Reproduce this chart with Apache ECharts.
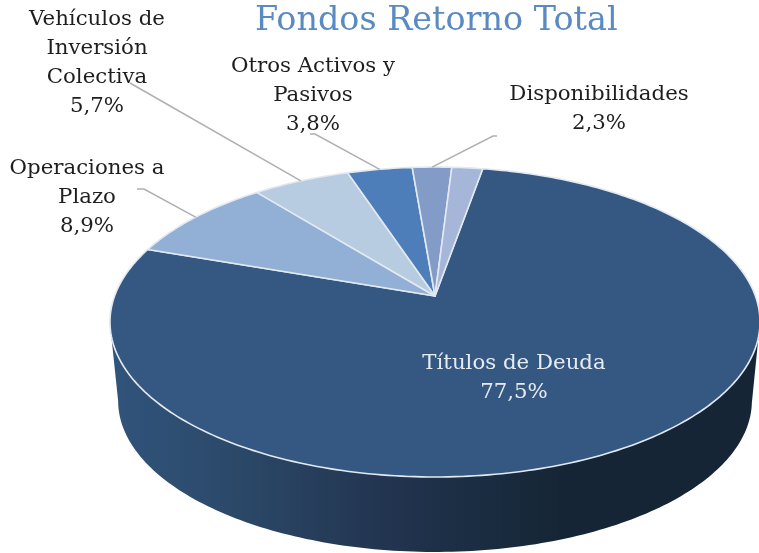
<!DOCTYPE html>
<html><head><meta charset="utf-8">
<style>html,body{margin:0;padding:0;background:#fff}#c{width:759px;height:553px}</style>
<script src="https://cdn.jsdelivr.net/npm/echarts@6/dist/echarts.min.js"></script>
</head><body><div id="c"></div>
<script>
const titleText = 'Fondos Retorno Total';
const categories = ['Títulos de Deuda', 'Operaciones a\nPlazo', 'Vehículos de\nInversión\nColectiva', 'Otros Activos y\nPasivos', 'Disponibilidades', ''];
const values = [77.5, 8.9, 5.7, 3.8, 2.3, 1.8];
const valueLabels = ['77,5%', '8,9%', '5,7%', '3,8%', '2,3%', ''];
const sliceColors = ['#345882', '#92b0d5', '#b7cbe1', '#4d7eb9', '#839cc7', '#a6b6d8'];

// label layout: [centre x, top y of the text block]
const labelPos = [[514, 349], [87, 154], [97, 5], [313, 52], [599, 80], null];
// leader elbow points, from the label towards the slice rim
const leaderStart = [null, [[137, 189], [144, 189]], [[130, 83]], [[310, 134], [315, 134]], [[497, 136], [493, 136]], null];

const FONT = '"DejaVu Serif", serif';
const startAngle = 10;
const apex = [435, 296];
const K = 0.1678, A = 320.4, B = 150.6;
const wallScale = 0.975, wallApexY = 375.5;

function project(deg, s, y0) {
  const a = deg * Math.PI / 180, u = Math.sin(a), v = Math.cos(a), w = 1 + K * v;
  return [apex[0] + s * A * u / w, y0 - s * B * v / w];
}
const total = values.reduce((p, c) => p + c, 0);
const starts = [];
values.reduce((acc, v, i) => { starts[i] = acc; return acc + v; }, 0);
const toDeg = x => startAngle + x / total * 360;

function sliceShape(i) {
  const pts = [apex.slice()];
  const a0 = toDeg(starts[i]), a1 = toDeg(starts[i] + values[i]);
  const n = Math.max(4, Math.ceil(a1 - a0));
  for (let k = 0; k <= n; k++) pts.push(project(a0 + (a1 - a0) * k / n, 1, apex[1]));
  return pts;
}
function wallShape() {
  const ext = Math.acos(-K) * 180 / Math.PI, back = 360 - ext, pts = [];
  for (let d = ext; d <= back; d += 1) pts.push(project(d, 1, apex[1]));
  for (let d = back; d >= ext; d -= 1) pts.push(project(d, wallScale, wallApexY));
  return pts;
}
const wallFill = new echarts.graphic.LinearGradient(110, 0, 759, 0, [
  { offset: 0, color: '#31547c' },
  { offset: 0.2, color: '#2b4868' },
  { offset: 0.43, color: '#22344f' },
  { offset: 0.58, color: '#1a2c40' },
  { offset: 0.7, color: '#152535' },
  { offset: 1, color: '#152535' }
], true);

const chart = echarts.init(document.getElementById('c'), null, { renderer: 'canvas', width: 759, height: 553 });
chart.setOption({
  animation: false,
  backgroundColor: '#ffffff',
  title: {
    text: titleText, left: 250, top: 0,
    textStyle: { fontFamily: FONT, fontSize: 33.4, fontWeight: 'normal', color: '#5a8ac2' }
  },
  series: [
    {
      type: 'custom', coordinateSystem: 'none', silent: true, z: 1,
      data: [0],
      renderItem: () => ({
        type: 'polygon', shape: { points: wallShape() },
        style: { fill: wallFill, stroke: null }
      })
    },
    {
      type: 'custom', coordinateSystem: 'none', silent: true, z: 2,
      data: values,
      renderItem: (p) => ({
        type: 'polygon', shape: { points: sliceShape(p.dataIndex) },
        style: { fill: sliceColors[p.dataIndex], stroke: '#e3e9f1', lineWidth: 1.6, lineJoin: 'round' }
      })
    },
    {
      type: 'custom', coordinateSystem: 'none', silent: true, z: 3,
      data: values,
      renderItem: (p) => {
        const i = p.dataIndex, st = leaderStart[i];
        if (!st) return null;
        const end = project(toDeg(starts[i] + values[i] / 2), 1, apex[1]);
        return {
          type: 'polyline', shape: { points: st.concat([end]) },
          style: { stroke: '#b0b0b0', lineWidth: 1.5, fill: null }
        };
      }
    },
    {
      type: 'custom', coordinateSystem: 'none', silent: true, z: 4,
      data: values,
      renderItem: (p) => {
        const i = p.dataIndex, pos = labelPos[i];
        if (!pos) return null;
        return {
          type: 'text', x: pos[0], y: pos[1],
          style: {
            text: categories[i] + '\n' + valueLabels[i],
            fontFamily: FONT, fontSize: 21.3, lineHeight: 29,
            fill: i === 0 ? '#e6ebf2' : '#1e1e1e', align: 'center', verticalAlign: 'top'
          }
        };
      }
    }
  ]
});
</script></body></html>
